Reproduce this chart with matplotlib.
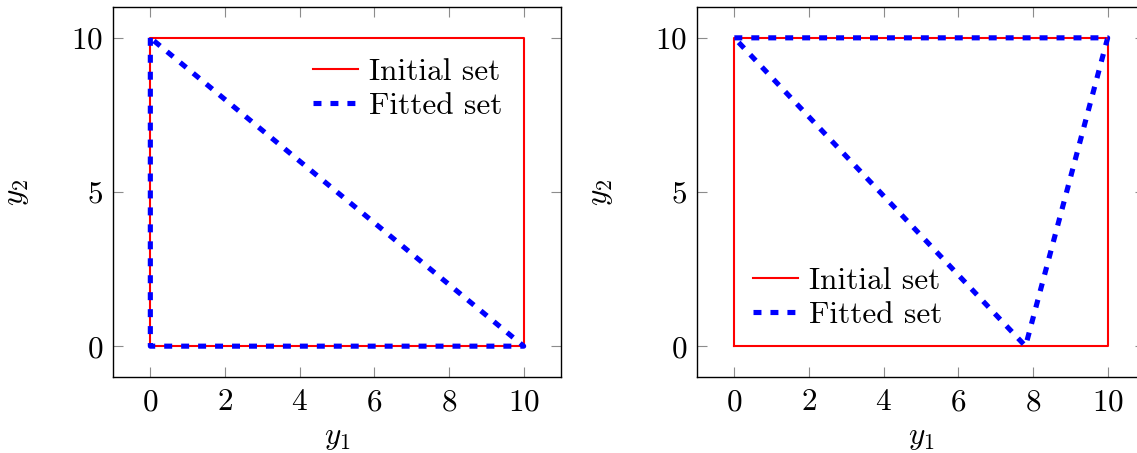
import numpy as np
import matplotlib
matplotlib.use("Agg")
import matplotlib.pyplot as plt

# initial set: the square [0,10] x [0,10]
init_y1 = [0, 10, 10, 0, 0]
init_y2 = [0, 0, 10, 10, 0]

# fitted sets (triangles)
fit_left_y1 = [0, 0, 10, 0]
fit_left_y2 = [10, 0, 0, 10]
fit_right_y1 = [0, 10, 7.8, 0]
fit_right_y2 = [10, 10, 0, 10]

xticks = [0, 2, 4, 6, 8, 10]
yticks = [0, 5, 10]

plt.rcParams["font.family"] = "serif"
plt.rcParams["font.serif"] = ["cmr10"]
plt.rcParams["mathtext.fontset"] = "cm"
plt.rcParams["axes.formatter.use_mathtext"] = True
plt.rcParams["font.size"] = 22.5

W, H = 1137, 453
fig = plt.figure(figsize=(W / 100, H / 100), dpi=100)

def panel(left, fy1, fy2, legend_loc, legend_anchor):
    ax = fig.add_axes([left / W, (H - 377) / H, 448 / W, 370 / H])
    ax.plot(init_y1, init_y2, color="red", lw=1.5, label="Initial set")
    ax.plot(fy1, fy2, color="blue", lw=3.7, dashes=(1.55, 1.75),
            dash_capstyle="butt", label="Fitted set")
    ax.set_xlim(-1, 11)
    ax.set_ylim(-1, 11)
    ax.set_xticks(xticks)
    ax.set_yticks(yticks)
    ax.tick_params(direction="in", length=7, width=0.8, color="#8c8c8c",
                   top=True, right=True)
    ax.tick_params(axis="x", pad=8)
    ax.tick_params(axis="y", pad=7)
    for s in ax.spines.values():
        s.set_linewidth(1.0)
    ax.set_xlabel("$y_1$", labelpad=6)
    ax.set_ylabel("$y_2$", labelpad=29)
    ax.legend(loc=legend_loc, bbox_to_anchor=legend_anchor, frameon=False,
              borderpad=0, borderaxespad=0, handlelength=1.45,
              handletextpad=0.35, labelspacing=0.2)
    return ax

panel(113, fit_left_y1, fit_left_y2, "upper right", (0.87, 0.862))
panel(697, fit_right_y1, fit_right_y2, "lower left", (0.124, 0.13))

fig.savefig("out.png", dpi=100)
